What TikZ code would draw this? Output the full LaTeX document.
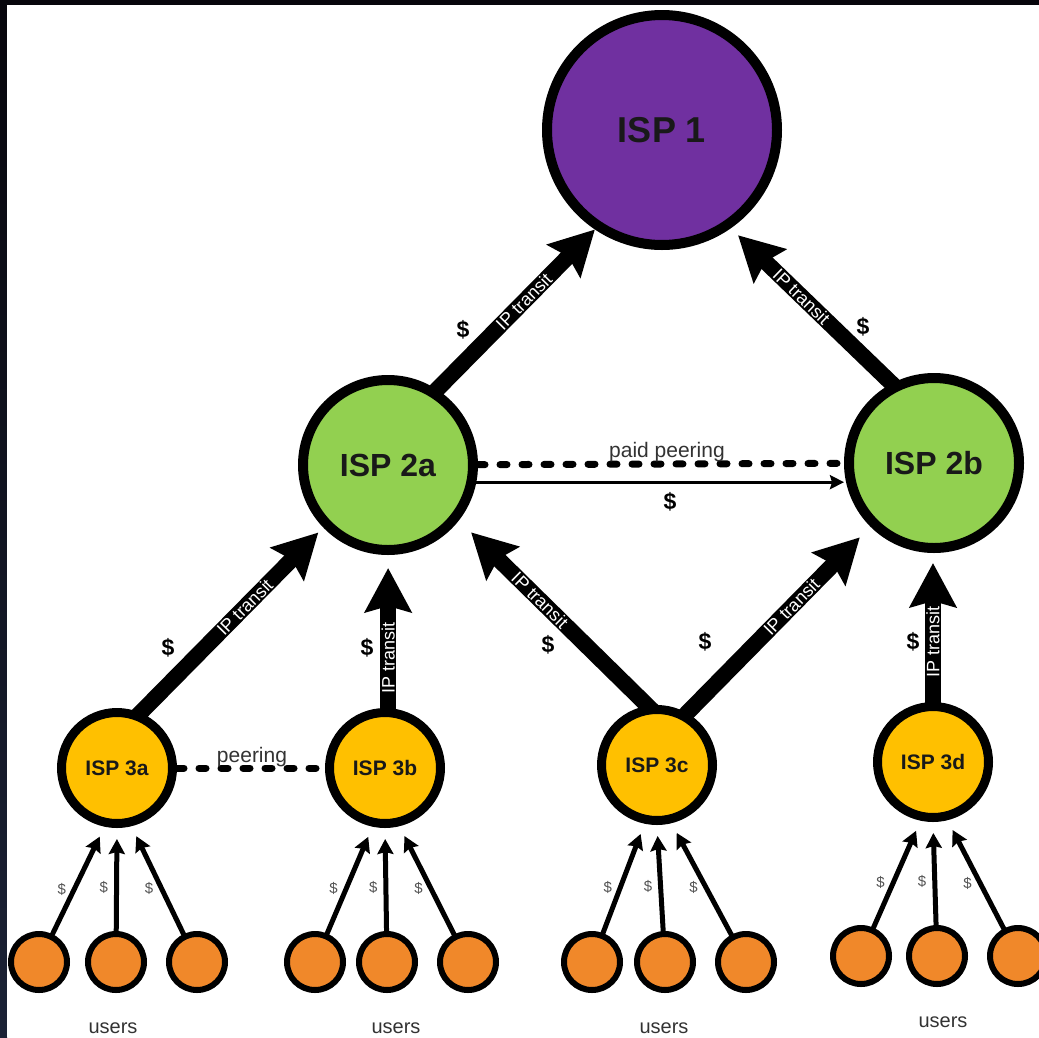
\documentclass[tikz,border=0pt]{standalone}
\usepackage{fontspec}
\setmainfont{Liberation Sans}
\usetikzlibrary{arrows.meta}

\definecolor{ispone}{HTML}{7030A0}
\definecolor{isptwo}{HTML}{92D050}
\definecolor{ispthree}{HTML}{FFC000}
\definecolor{userorange}{HTML}{F0882A}
\definecolor{labelgray}{HTML}{333333}
\definecolor{paygray}{HTML}{555555}
\definecolor{edgedark}{HTML}{07060C}
\definecolor{edgenavy}{HTML}{1B2236}

\pgfdeclarelayer{canvas}
\pgfdeclarelayer{links}
\pgfsetlayers{canvas,links,main}

\tikzset{
  isp/.style={circle, draw=black, inner sep=0pt, text=black!90},
  tierone/.style={isp, fill=ispone, line width=10pt, minimum size=230pt,
    font=\fontsize{36}{40}\selectfont\bfseries},
  tiertwo/.style={isp, fill=isptwo, line width=10pt, minimum size=170pt,
    font=\fontsize{32}{36}\selectfont\bfseries},
  tierthree/.style={isp, fill=ispthree, line width=9pt, minimum size=111pt,
    font=\fontsize{21}{24}\selectfont\bfseries},
  user/.style={circle, draw=black, fill=userorange, line width=6pt,
    minimum size=56pt, inner sep=0pt},
  transit/.style={line width=16pt, shorten <=-8pt,
    -{Stealth[length=44pt,width=46pt,inset=6pt]}},
  transitlabel/.style={sloped, text=white, inner sep=0pt,
    font=\fontsize{18}{20}\selectfont},
  money/.style={inner sep=0pt, font=\fontsize{23}{25}\selectfont\bfseries},
  pay/.style={line width=5pt, shorten <=-3pt, shorten >=11pt,
    -{Stealth[length=15pt,width=16pt,inset=2pt]}},
  paylabel/.style={left=6pt, inner sep=0pt, text=paygray,
    font=\fontsize{15}{17}\selectfont},
  peer/.style={line width=7pt, dash pattern=on 7pt off 15pt, line cap=round},
  peerlabel/.style={inner sep=0pt, text=labelgray, font=\fontsize{21}{24}\selectfont},
  userlabel/.style={inner sep=0pt, text=labelgray, font=\fontsize{20}{24}\selectfont},
  paidarrow/.style={line width=3pt, -{Stealth[length=14pt,width=14pt,inset=2pt]}},
}

\begin{document}
\begin{tikzpicture}[x=1pt,y=-1pt]
\useasboundingbox (0,0) rectangle (1039,1037);

% page with its dark top and left edge
\begin{pgfonlayer}{canvas}
  \fill[edgedark] (0,0) rectangle (1039,1037);
  \shade[top color=edgedark, bottom color=edgenavy] (0,0) rectangle (7,1037);
  \fill[white] (7,5) rectangle (1039,1037);
\end{pgfonlayer}

% providers
\node[tierone]   (isp1)  at (662,130) {ISP 1};
\node[tiertwo]   (isp2a) at (388,465) {ISP 2a};
\node[tiertwo]   (isp2b) at (934,463) {ISP 2b};
\node[tierthree] (isp3a) at (117,768) {ISP 3a};
\node[tierthree] (isp3b) at (385,768) {ISP 3b};
\node[tierthree] (isp3c) at (657,765) {ISP 3c};
\node[tierthree] (isp3d) at (933,762) {ISP 3d};

% end users
\foreach \n/\x/\y in {a1/39/962, a2/116/962, a3/197/962,
                      b1/315/962, b2/387/962, b3/468/962,
                      c1/592/962, c2/665/962, c3/746/962,
                      d1/861/956, d2/937/956, d3/1018/956}
  \node[user] (u\n) at (\x,\y) {};

\node[userlabel] (usersa) at (113,1028) {users};
\node[userlabel] (usersb) at (396,1028) {users};
\node[userlabel] (usersc) at (664,1028) {users};
\node[userlabel] (usersd) at (943,1022) {users};

\begin{pgfonlayer}{links}
  % IP transit, customer -> provider
  \draw[transit] (isp2a.57) -- node[transitlabel, pos=0.55] (t1) {IP transit} (isp1.236);
  \draw[transit, shorten >=10pt] (isp2b.118) -- node[transitlabel, pos=0.56] (t2) {IP transit} (isp1.-55);
  \draw[transit, shorten >=7pt] (isp3a.67) -- node[transitlabel, pos=0.57] (t3) {IP transit} (isp2a.224);
  \draw[transit, shorten >=13pt] (isp3b.87) -- node[transitlabel, pos=0.33] (t4) {IP transit} (isp3b.87 |- isp2a.south);
  \draw[transit, shorten >=17pt] (isp3c.99) -- node[transitlabel, pos=0.57] (t5) {IP transit} (isp2a.-38);
  \draw[transit, shorten >=15pt] (isp3c.60) -- node[transitlabel, pos=0.57] (t6) {IP transit} (isp2b.-135);
  \draw[transit, shorten >=10pt] (isp3d.north) -- node[transitlabel, pos=0.40] (t7) {IP transit} (isp3d.north |- isp2b.south);

  % peering links
  \draw[peer] (isp2a) -- (isp2b);
  \draw[paidarrow] (isp2a.-11) -- (isp2a.-11 -| isp2b.west);
  \draw[peer] (isp3a) -- (isp3b);

  % users paying their access provider
  \foreach \g in {a,b,c,d} {
    \draw[pay] (u\g1) -- node[paylabel, pos=0.42] {\$} (isp3\g.-102);
    \draw[pay] (u\g2) -- node[paylabel, pos=0.42] {\$} (isp3\g.-90);
    \draw[pay] (u\g3) -- node[paylabel, pos=0.42] {\$} (isp3\g.-76);
  }
\end{pgfonlayer}

% payment marks on transit links
\node[money] (m1) at (463,330) {\$};
\node[money] (m2) at (863,327) {\$};
\node[money] (m3) at (168,648) {\$};
\node[money] (m4) at (367,648) {\$};
\node[money] (m5) at (548,645) {\$};
\node[money] (m6) at (705,642) {\$};
\node[money] (m7) at (913,642) {\$};

% peering labels
\node[peerlabel] (pp)  at (667,452) {paid peering};
\node[money]     (m8)  at (670,502) {\$};
\node[peerlabel] (pr)  at (252,757) {peering};

\end{tikzpicture}
\end{document}
